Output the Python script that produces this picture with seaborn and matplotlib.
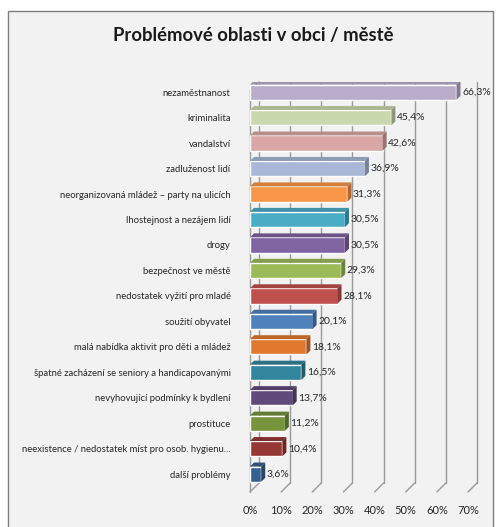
import matplotlib
matplotlib.use("Agg")
import matplotlib.pyplot as plt
import seaborn as sns
import pandas as pd
from matplotlib.patches import Polygon, Rectangle

# Data
categories = [
    "nezaměstnanost",
    "kriminalita",
    "vandalství",
    "zadluženost lidí",
    "neorganizovaná mládež – party na ulicích",
    "lhostejnost a nezájem lidí",
    "drogy",
    "bezpečnost ve městě",
    "nedostatek vyžití pro mladé",
    "soužití obyvatel",
    "malá nabídka aktivit pro děti a mládež",
    "špatné zacházení se seniory a handicapovanými",
    "nevyhovující podmínky k bydlení",
    "prostituce",
    "neexistence / nedostatek míst pro osob. hygienu...",
    "další problémy",
]
values = [66.3, 45.4, 42.6, 36.9, 31.3, 30.5, 30.5, 29.3, 28.1, 20.1, 18.1, 16.5, 13.7, 11.2, 10.4, 3.6]
colors = [
    "#b9adcb", "#c9d8ad", "#d9a7a6", "#a8b8d6", "#f79646", "#4bacc6",
    "#8064a2", "#9bbb59", "#c0504d", "#4f81bd", "#e0782e", "#31859c",
    "#604a7b", "#77933c", "#953735", "#376092",
]
xticks = [0, 10, 20, 30, 40, 50, 60, 70]

df = pd.DataFrame({"kat": categories, "val": values})

sns.set_style("white")
plt.rcParams["font.family"] = ["Lato", "DejaVu Sans"]

bg = "#f2f2f2"
fig = plt.figure(figsize=(4.97, 5.27), dpi=100)
fig.patch.set_facecolor("white")
# outer chart frame
fig.patches.append(Rectangle((8 / 497, -0.05), 485 / 497, 1 - 11 / 527 + 0.05,
                             transform=fig.transFigure, facecolor=bg,
                             edgecolor="#7f7f7f", linewidth=1.0, zorder=-10))

ax = fig.add_axes([250 / 497, 1 - 492 / 527, 218 / 497, 410 / 527])
ax.set_facecolor("none")

sns.barplot(data=df, x="val", y="kat", hue="kat", palette=colors, orient="h",
            width=0.6, legend=False, ax=ax, saturation=1, zorder=3)

ax.set_xlim(0, 70)
ax.set_ylim(15.7, -0.4)
for s in ax.spines.values():
    s.set_visible(False)

# pixel -> data helpers for 3D offsets
p0 = ax.transData.transform((0, 0))
px_x = ax.transData.transform((1, 0))[0] - p0[0]
px_y = p0[1] - ax.transData.transform((0, 1))[1]
wall_dx, wall_dy = 9 / px_x, -9 / px_y
bar_dx, bar_dy = 4 / px_x, -4 / px_y

# back wall gridlines and floor diagonals
ymin, ymax = ax.get_ylim()
grid_c = "#9a9a9a"
for t in xticks:
    ax.plot([t + wall_dx, t + wall_dx], [ymin + wall_dy, ymax], color=grid_c, lw=1, zorder=1, clip_on=False)
    ax.plot([t, t + wall_dx], [ymin, ymin + wall_dy], color=grid_c, lw=1, zorder=1, clip_on=False)
# left wall
ax.plot([0, 0], [ymin, ymax - wall_dy], color=grid_c, lw=1, zorder=1, clip_on=False)
ax.plot([0, wall_dx], [ymax - wall_dy, ymax], color=grid_c, lw=1, zorder=1, clip_on=False)

# 3D faces of the bars
for patch, c in zip(ax.patches, colors):
    x1 = patch.get_x() + patch.get_width()
    y0 = patch.get_y()
    y1 = y0 + patch.get_height()
    dark = tuple(v * 0.7 for v in matplotlib.colors.to_rgb(c))
    mid = tuple(v * 0.85 for v in matplotlib.colors.to_rgb(c))
    ax.add_patch(Polygon([(0, y0), (x1, y0), (x1 + bar_dx, y0 + bar_dy), (bar_dx, y0 + bar_dy)],
                         closed=True, facecolor=mid, edgecolor="none", zorder=3))
    ax.add_patch(Polygon([(x1, y0), (x1, y1), (x1 + bar_dx, y1 + bar_dy), (x1 + bar_dx, y0 + bar_dy)],
                         closed=True, facecolor=dark, edgecolor="none", zorder=3))

# value labels
for i, v in enumerate(values):
    ax.text(v + bar_dx + 0.5, i, f"{v:.1f}%".replace(".", ","), va="center", ha="left",
            fontsize=7.5, color="#262626", zorder=4)

ax.set_xticks(xticks)
ax.set_xticklabels([f"{t}%" for t in xticks], fontsize=8, color="#262626")
ax.tick_params(axis="x", length=0, pad=9)
ax.tick_params(axis="y", length=0, pad=14, labelsize=6.8, labelcolor="#262626")
ax.set_xlabel("")
ax.set_ylabel("")

fig.text(253 / 497, 1 - 35 / 527, "Problémové oblasti v obci / městě", ha="center", va="center",
         fontsize=13.3, fontweight="bold", color="#1a1a1a")

fig.savefig("out.png", dpi=100)
